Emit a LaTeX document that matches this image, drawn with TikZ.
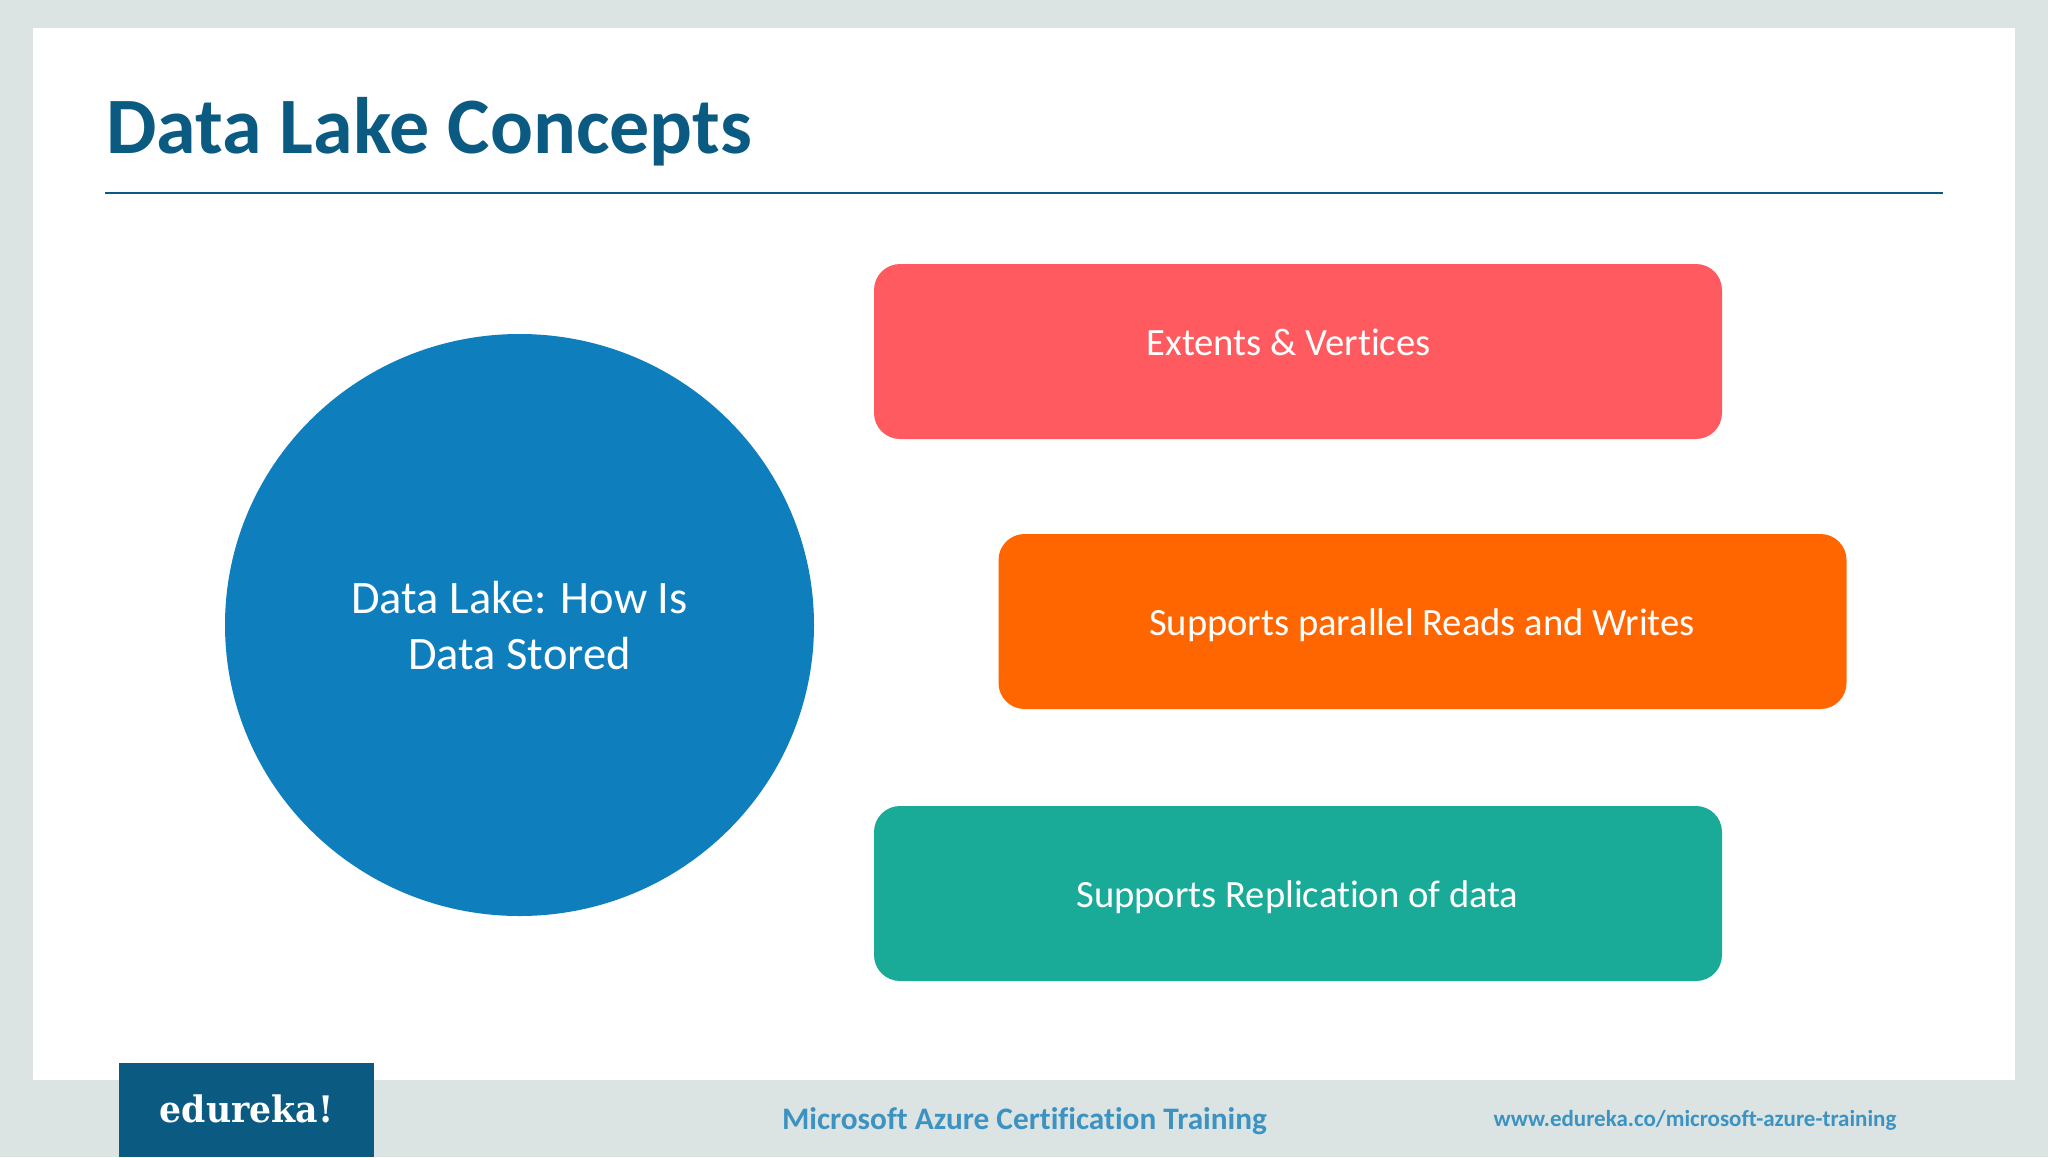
\documentclass[tikz,border=0pt]{standalone}
\usepackage{fontspec}
\setmainfont[Ligatures=CommonOff]{Carlito}
\newfontfamily\logofont{DejaVu Serif}
\usetikzlibrary{shapes.geometric}
\definecolor{pagebg}{HTML}{DCE3E3}
\definecolor{deepblue}{HTML}{0A5A82}
\definecolor{circblue}{HTML}{0E7EBC}
\definecolor{redbox}{HTML}{FF5A5F}
\definecolor{orangebox}{HTML}{FF6600}
\definecolor{tealbox}{HTML}{19AB97}
\definecolor{footblue}{HTML}{3C93C2}
\tikzset{
  x=1pt,y=-1pt,
  conceptbox/.style={draw=none,rounded corners=26pt,minimum width=848pt,minimum height=175pt,inner sep=0pt},
  boxtext/.style={text=white,inner sep=0pt,font=\fontsize{38.6}{38.6}\selectfont,anchor=center},
  foot/.style={text=footblue,inner sep=0pt,font=\bfseries},
}
\begin{document}
\begin{tikzpicture}
\useasboundingbox (0,0) rectangle (2048,1157);
\fill[pagebg] (0,0) rectangle (2048,1157);
\fill[white] (33,28) rectangle (2015,1080);
\node[text=deepblue,inner sep=0pt,anchor=base west,font=\fontsize{80}{80}\selectfont\bfseries] (title) at (106,153) {Data Lake Concepts};
\coordinate (ruleL) at (105,193);
\coordinate (ruleR) at (1943,193);
\draw[deepblue,line width=2pt] (ruleL) -- (ruleR);
\node[ellipse,fill=circblue,minimum width=589pt,minimum height=582pt,inner sep=0pt] (lake) at (519.5,625) {};
\node[text=white,inner sep=0pt,align=center,font=\fontsize{46.5}{56}\selectfont] (laketext) at (519.5,626) {Data Lake: How Is\\Data Stored};
\node[conceptbox,fill=redbox] (b1) at (1298,351.5) {};
\node[conceptbox,fill=orangebox] (b2) at (1422.5,621.5) {};
\node[conceptbox,fill=tealbox] (b3) at (1298,893.5) {};
\node[boxtext] (t1) at (1288.5,342) {Extents \& Vertices};
\node[boxtext] (t2) at (1422,625.5) {Supports parallel Reads and Writes};
\node[boxtext] (t3) at (1297.5,897.5) {Supports Replication of data};
\fill[deepblue] (119,1063) rectangle (374,1157);
\node[text=white,inner sep=0pt,font=\logofont\bfseries\fontsize{36.5}{36.5}\selectfont,xscale=0.95] (logo) at (246.5,1109) {edureka!};
\node[foot,font=\fontsize{31.3}{31.3}\selectfont\bfseries] (f1) at (1024.5,1121) {Microsoft Azure Certification Training};
\node[foot,font=\fontsize{23}{23}\selectfont\bfseries] (f2) at (1695,1120) {www.edureka.co/microsoft-azure-training};
\end{tikzpicture}
\end{document}
